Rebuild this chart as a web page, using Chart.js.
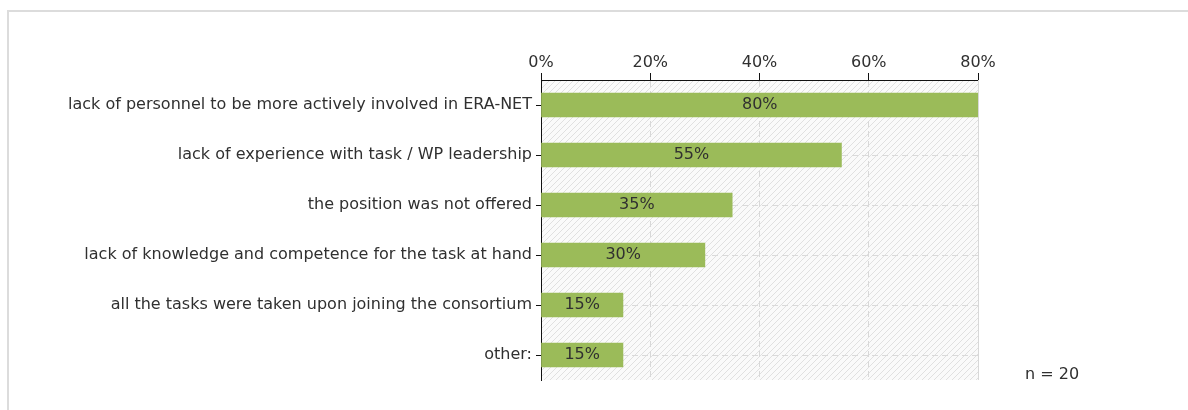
<!DOCTYPE html>
<html>
<head>
<meta charset="utf-8">
<script src="https://cdn.jsdelivr.net/npm/chart.js@4/dist/chart.umd.min.js"></script>
<style>
  html, body { margin: 0; padding: 0; background: #fff; overflow: hidden; }
  #wrap { position: absolute; left: 0; top: 0; width: 1188px; height: 410px; }
</style>
</head>
<body>
<div id="wrap"><canvas id="reasonsChart"></canvas></div>
<script>
const categories = [
  'lack of personnel to be more actively involved in ERA-NET',
  'lack of experience with task / WP leadership',
  'the position was not offered',
  'lack of knowledge and competence for the task at hand',
  'all the tasks were taken upon joining the consortium',
  'other:'
];
const shares = [80, 55, 35, 30, 15, 15];
const xTicks = [0, 20, 40, 60, 80];
const respondents = 20;

const FONT = 'DejaVu Sans';
const TEXT = '#303030';
const SIZE = 16;

// diagonal hatch used behind the bars
function makeHatch() {
  const c = document.createElement('canvas');
  c.width = 6; c.height = 6;
  const g = c.getContext('2d');
  g.fillStyle = '#fafafa';
  g.fillRect(0, 0, 6, 6);
  g.strokeStyle = '#e0e0e0';
  g.lineWidth = 1;
  g.beginPath();
  g.moveTo(0, 6); g.lineTo(6, 0);
  g.moveTo(-3, 3); g.lineTo(3, -3);
  g.moveTo(3, 9); g.lineTo(9, 3);
  g.stroke();
  return c;
}

const hatchBackground = {
  id: 'hatchBackground',
  beforeDraw(chart) {
    const { ctx, chartArea: a } = chart;
    ctx.save();
    // panel frame (top and left edges only)
    ctx.fillStyle = '#dcdcdc';
    ctx.fillRect(7, 10, chart.width - 7, 2);
    ctx.fillRect(7, 10, 2, chart.height - 10);
    ctx.fillStyle = ctx.createPattern(makeHatch(), 'repeat');
    ctx.fillRect(a.left, a.top, a.right - a.left, a.bottom - a.top);
    ctx.restore();
  },
  afterDatasetsDraw(chart) {
    const { ctx, chartArea: a } = chart;
    ctx.save();
    // solid right edge of the plot
    ctx.strokeStyle = '#d8d8d8';
    ctx.lineWidth = 1;
    ctx.beginPath();
    ctx.moveTo(a.right + 0.5, a.top);
    ctx.lineTo(a.right + 0.5, a.bottom);
    ctx.stroke();

    // value labels centred in the bars
    const meta = chart.getDatasetMeta(0);
    ctx.font = SIZE + 'px "' + FONT + '"';
    ctx.fillStyle = TEXT;
    ctx.textAlign = 'center';
    ctx.textBaseline = 'middle';
    meta.data.forEach((bar, i) => {
      const cx = (bar.base + bar.x) / 2;
      ctx.fillText(shares[i] + '%', cx, bar.y);
    });

    // sample size note
    ctx.textAlign = 'left';
    ctx.fillText('n = ' + respondents, 1025, 375);
    ctx.restore();
  }
};

const ctx = document.getElementById('reasonsChart').getContext('2d');
new Chart(ctx, {
  type: 'bar',
  data: {
    labels: categories,
    datasets: [{
      data: shares,
      backgroundColor: '#9bbb59',
      borderWidth: 0,
      barThickness: 24
    }]
  },
  options: {
    indexAxis: 'y',
    responsive: true,
    maintainAspectRatio: false,
    animation: false,
    layout: { padding: { left: 0, top: 0, right: 210, bottom: 30 } },
    plugins: {
      legend: { display: false },
      tooltip: { enabled: false }
    },
    scales: {
      x: {
        position: 'top',
        min: 0,
        max: 80,
        afterBuildTicks: (scale) => { scale.ticks = xTicks.map(v => ({ value: v })); },
        afterFit: (scale) => { scale.height = 80; },
        ticks: {
          callback: (v) => v + '%',
          font: { family: FONT, size: SIZE },
          color: TEXT,
          padding: 1,
          maxRotation: 0
        },
        grid: {
          color: (c) => (c.tick && (c.tick.value === 0 || c.tick.value === 80)) ? 'rgba(0,0,0,0)' : '#d8d8d8',
          tickColor: '#111',
          tickLength: 7,
          lineWidth: 1
        },
        border: { display: true, color: '#111', width: 1, dash: [6, 4] }
      },
      y: {
        afterFit: (scale) => { scale.width = 541; },
        ticks: {
          font: { family: FONT, size: SIZE },
          color: TEXT,
          padding: 4
        },
        grid: {
          color: '#dadada',
          tickColor: '#111',
          tickLength: 5,
          offset: false
        },
        border: { display: true, color: '#111', width: 1, dash: [6, 4] }
      }
    }
  },
  plugins: [hatchBackground]
});
</script>
</body>
</html>
